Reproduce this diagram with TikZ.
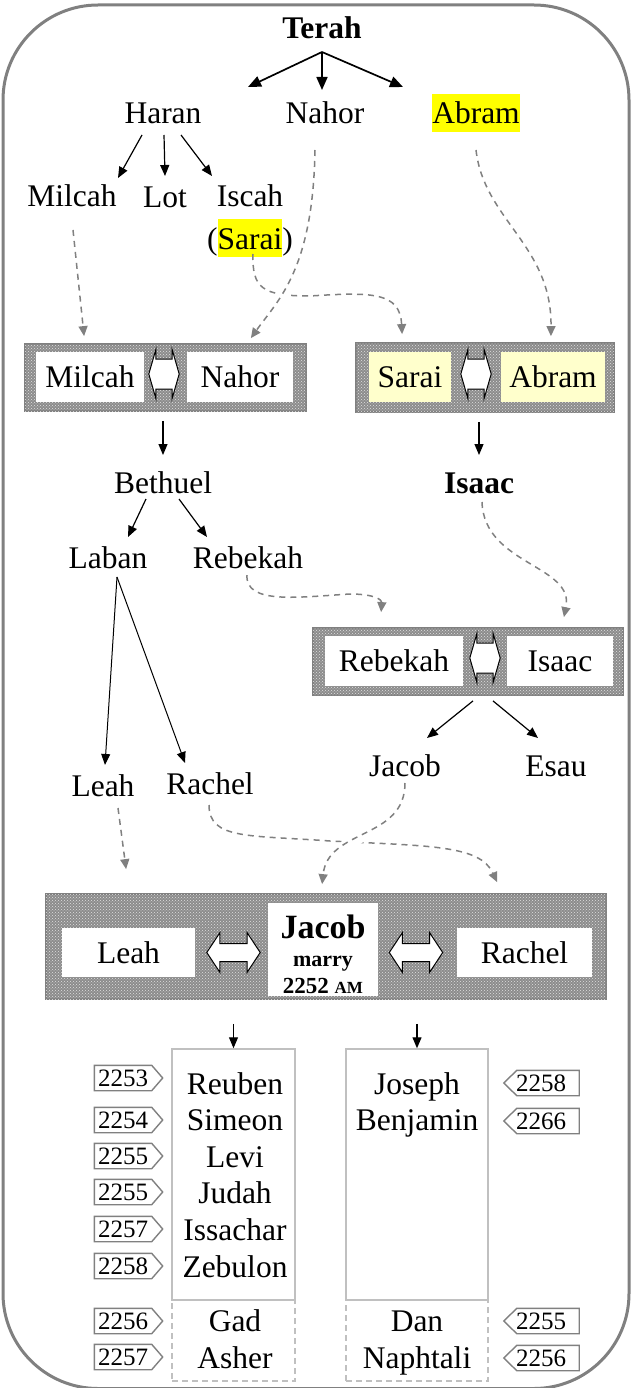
\documentclass[tikz,border=0pt]{standalone}
\usepackage{fontspec}
\setmainfont{Liberation Serif}
\usetikzlibrary{arrows.meta,calc,patterns}
\definecolor{hlyellow}{RGB}{255,255,0}
\definecolor{paleyellow}{RGB}{255,255,204}
\definecolor{framec}{RGB}{128,128,128}
\definecolor{dashc}{RGB}{128,128,128}
\definecolor{boxc}{RGB}{192,192,192}
\definecolor{hatchc}{RGB}{140,140,140}
\definecolor{hatchdot}{RGB}{225,225,225}
\newcommand\fs{\fontsize{31.5}{36}\selectfont}
\newcommand\tfs{\fontsize{25}{27}\selectfont}
\newcommand\hl[1]{{\setlength\fboxsep{0pt}\colorbox{hlyellow}{\rule[-0.25em]{0pt}{1.2em}#1}}}
\newcommand\dblarrow[3]{%
 \draw[dblline] (#1.west) -- ($(#1.north west)+(#2,0)$) -- ($(#1.west)+(#2,-#3)$) -- ($(#1.east)+(-#2,-#3)$) -- ($(#1.north east)+(-#2,0)$) -- (#1.east) -- ($(#1.south east)+(-#2,0)$) -- ($(#1.east)+(-#2,#3)$) -- ($(#1.west)+(#2,#3)$) -- ($(#1.south west)+(#2,0)$) -- cycle;}
\newcommand\tagR[4]{%
 \node[tagtxt, minimum width=57pt] (#1) at (#2,#3) {#4};
 \draw[tagline] (#1.north west) -- (#1.north east) -- ($(#1.east)+(11,0)$) -- (#1.south east) -- (#1.south west) -- cycle;}
\newcommand\tagL[4]{%
 \node[tagtxt, minimum width=62pt] (#1) at (#2,#3) {\kern-7pt#4\kern7pt};
 \draw[tagline] (#1.north east) -- (#1.north west) -- ($(#1.west)+(-13,0)$) -- (#1.south west) -- (#1.south east) -- cycle;}
\tikzset{
 txt/.style={inner sep=0pt, font=\fs, text height=24pt, text depth=2pt},
 txtb/.style={txt, font=\fs\bfseries},
 arr/.style={-{Triangle[length=11pt,width=9pt]}, line width=1.2pt},
 arrT/.style={-{Triangle[length=13pt,width=11pt]}, line width=1.7pt},
 gline/.style={draw=dashc, line width=1.5pt, dash pattern=on 6pt off 5pt, -{Triangle[length=10pt,width=9pt]}, dashc},
 halo/.style={preaction={draw=white, line width=12pt, solid, -}},
 couple/.style={draw=framec, line width=1.8pt, fill=hatchc, postaction={pattern=crosshatch dots, pattern color=hatchdot}, inner sep=0pt},
 inner/.style={fill=white, inner sep=0pt, font=\fs},
 innery/.style={inner, fill=paleyellow},
 dblbox/.style={inner sep=0pt},
 dblline/.style={draw=black, fill=white, line width=1pt, line join=miter},
 kids/.style={draw=boxc, line width=1.5pt, inner sep=0pt},
 kidsd/.style={kids, dash pattern=on 6pt off 4pt},
 tagtxt/.style={inner sep=0pt, minimum height=25pt, font=\tfs, text height=18.5pt, text depth=1pt},
 tagline/.style={draw=framec, line width=1.4pt},
}
\begin{document}
\begin{tikzpicture}[x=1pt,y=-1pt]
\useasboundingbox (0,0) rectangle (632,1388);
\draw[framec, line width=3pt, rounded corners=95pt] (3,5) rectangle (629,1388.5);

% top generation
\node[txtb] (terah) at (322,28) {Terah};
\node[txt] (haran) at (163,113) {Haran};
\node[txt] (nahor) at (325,113) {Nahor};
\node[txt] (abram) at (476,113) {\hl{Abram}};
\node[txt] (milcah) at (72,196) {Milcah};
\node[txt] (lot) at (165,197) {Lot};
\node[txt] (iscah) at (250,196) {Iscah};
\node[txt] (iscahb) at (250,238) {(\hl{Sarai})};

\draw[arrT] ($(terah)+(0,24)$) -- ($(haran)+(85,-26)$);
\draw[arrT] ($(terah)+(0,24)$) -- ($(nahor)+(-3,-23)$);
\draw[arrT] ($(terah)+(0,24)$) -- ($(abram)+(-73,-26)$);
\draw[arr] ($(haran)+(-21,22)$) -- ($(milcah)+(46,-18)$);
\draw[arr] ($(haran)+(1,22)$) -- ($(lot)+(0,-21)$);
\draw[arr] ($(haran)+(18,22)$) -- ($(iscah)+(-38,-20)$);

% couples
\node[couple, minimum width=281pt, minimum height=67pt] (b1) at (165.5,377.5) {};
\node[inner, minimum width=108pt, minimum height=50pt] (b1l) at (90,377) {Milcah};
\node[inner, minimum width=106pt, minimum height=50pt] (b1r) at (240,377) {Nahor};
\node[dblbox, minimum width=30pt, minimum height=48pt] (d1) at (164,374) {};
\dblarrow{d1}{7}{15}

\node[couple, minimum width=258pt, minimum height=69pt] (b2) at (485,377.5) {};
\node[innery, minimum width=82pt, minimum height=50pt] (b2l) at (410,377) {Sarai};
\node[innery, minimum width=104pt, minimum height=50pt] (b2r) at (553,377) {Abram};
\node[dblbox, minimum width=30pt, minimum height=48pt] (d2) at (476,374) {};
\dblarrow{d2}{7}{15}

\draw[gline] ($(milcah)+(1,34)$) -- ($(b1.north west)+(60,-7)$);
\draw[gline] ($(iscahb)+(3,16)$) .. controls (252,288) and (262,296) .. (310,296) .. controls (372,292) and (400,292) .. ($(b2.north west)+(47,-8)$);
\draw[gline, halo] ($(nahor)+(-10,37)$) .. controls (313,270) and (278,300) .. ($(b1.north east)+(-56,-5)$);
\draw[gline] ($(abram)+(0,37)$) .. controls (484,220) and (552,245) .. ($(b2.north east)+(-64,-6)$);

% second generation
\node[txt] (bethuel) at (163,482) {Bethuel};
\node[txtb] (isaac) at (479,482) {Isaac};
\node[txt] (laban) at (108,557) {Laban};
\node[txt] (rebekah) at (248,557) {Rebekah};
\draw[arr] ($(b1.south -| bethuel)+(0,9)$) -- ($(bethuel)+(0,-27)$);
\draw[arr] ($(b2.south -| isaac)+(0,9)$) -- ($(isaac)+(0,-27)$);
\draw[arr] ($(bethuel)+(-17,17)$) -- ($(laban)+(20,-20)$);
\draw[arr] ($(bethuel)+(16,17)$) -- ($(rebekah)+(-41,-20)$);

\node[couple, minimum width=310pt, minimum height=67pt] (b3) at (468,661.5) {};
\node[inner, minimum width=138pt, minimum height=50pt] (b3l) at (394,661) {Rebekah};
\node[inner, minimum width=106pt, minimum height=50pt] (b3r) at (560,661) {Isaac};
\node[dblbox, minimum width=30pt, minimum height=48pt] (d3) at (485,658) {};
\dblarrow{d3}{7}{15}

\draw[gline] ($(rebekah)+(-1,18)$) .. controls (245,605) and (300,597) .. (350,594) .. controls (375,594) and (382,600) .. ($(b3.north west)+(69,-15)$);
\draw[gline] ($(isaac)+(3,20)$) .. controls (484,565) and (575,565) .. ($(b3.north east)+(-60,-10)$);

% third generation
\node[txt] (jacob) at (405,765) {Jacob};
\node[txt] (esau) at (556,765) {Esau};
\node[txt] (leah) at (103,785) {Leah};
\node[txt] (rachel) at (210,783) {Rachel};
\draw[arr] ($(b3.south)+(5,5)$) -- ($(jacob)+(22,-27)$);
\draw[arr] ($(b3.south)+(25,5)$) -- ($(esau)+(-18,-27)$);
\draw[arr, line width=1pt] ($(laban)+(9,20)$) -- ($(leah)+(2,-20)$);
\draw[arr, line width=1pt] ($(laban)+(9,20)$) -- ($(rachel)+(-25,-20)$);

\node[couple, minimum width=560pt, minimum height=105pt] (big) at (326,946.5) {};
\node[inner, minimum width=133pt, minimum height=49pt] (bl) at (128.5,952.5) {Leah};
\node[inner, minimum width=135pt, minimum height=49pt] (br) at (524.5,952.5) {Rachel};
\node[inner, minimum width=110pt, minimum height=93pt] (jb) at (323,949.5) {};
\node[anchor=base, inner sep=0pt, font=\fontsize{34}{34}\selectfont\bfseries] (jbt1) at (323,938) {Jacob};
\node[anchor=base, inner sep=0pt, font=\fontsize{22}{22}\selectfont\bfseries] (jbt2) at (323,966) {marry};
\node[anchor=base, inner sep=0pt, font=\fontsize{23}{23}\selectfont\bfseries] (jbt3) at (323,993) {2252 {\fontsize{17}{17}\selectfont AM}};
\node[dblbox, minimum width=53pt, minimum height=39pt] (d4) at (233.5,952.5) {};
\dblarrow{d4}{13}{9}
\node[dblbox, minimum width=53pt, minimum height=39pt] (d5) at (416,952.5) {};
\dblarrow{d5}{13}{9}

\draw[gline] ($(leah)+(15,23)$) -- ($(big.north west)+(81,-24)$);
\draw[gline] ($(rachel)+(-1,22)$) .. controls (209,840) and (250,835) .. (330,841) .. controls (430,846) and (480,845) .. ($(big.north west)+(452,-11)$);
\draw[gline, halo] ($(jacob)+(0,18)$) .. controls (405,840) and (328,828) .. ($(big.north west)+(277,-9)$);

% children
\node[kids, minimum width=123pt, minimum height=251pt] (lbox) at (233.5,1174.5) {};
\node[kidsd, minimum width=123pt, minimum height=81pt] (ldash) at (233.5,1340.5) {};
\node[kids, minimum width=142pt, minimum height=251pt] (rbox) at (417,1174.5) {};
\node[kidsd, minimum width=142pt, minimum height=81pt] (rdash) at (417,1340.5) {};
\draw[arr] ($(big.south -| lbox.north)+(0,24)$) -- (lbox.north);
\draw[arr] ($(big.south -| rbox.north)+(0,24)$) -- (rbox.north);

\node[txt] (reuben) at (235,1083) {Reuben};
\node[txt] (simeon) at (235,1119) {Simeon};
\node[txt] (levi) at (235,1156) {Levi};
\node[txt] (judah) at (235,1192) {Judah};
\node[txt] (issachar) at (235,1229) {Issachar};
\node[txt] (zebulon) at (235,1266) {Zebulon};
\node[txt] (gad) at (235,1320) {Gad};
\node[txt] (asher) at (235,1357) {Asher};
\node[txt] (joseph) at (417,1083) {Joseph};
\node[txt] (benjamin) at (417,1119) {Benjamin};
\node[txt] (dan) at (417,1320) {Dan};
\node[txt] (naphtali) at (417,1357) {Naphtali};

\tagR{t1}{123}{1078}{2253}
\tagR{t2}{123}{1120}{2254}
\tagR{t3}{123}{1156}{2255}
\tagR{t4}{123}{1192}{2255}
\tagR{t5}{123}{1229}{2257}
\tagR{t6}{123}{1266}{2258}
\tagR{t7}{123}{1321}{2256}
\tagR{t8}{123}{1357}{2257}
\tagL{t9}{548}{1083}{2258}
\tagL{t10}{548}{1121}{2266}
\tagL{t11}{548}{1321}{2255}
\tagL{t12}{548}{1358}{2256}
\end{tikzpicture}
\end{document}
